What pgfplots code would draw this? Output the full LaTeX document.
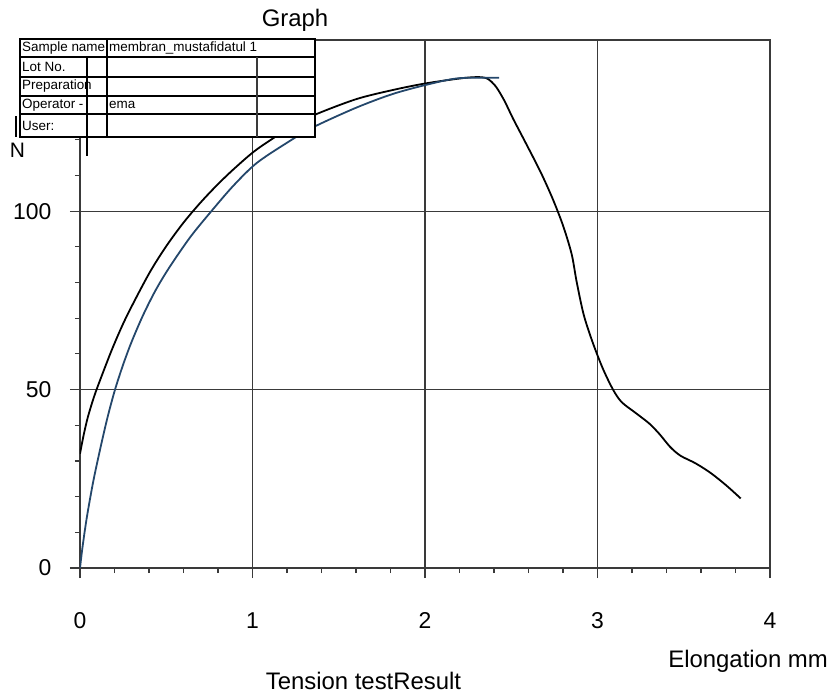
\documentclass[border=0pt]{standalone}
\usepackage{fontspec}
\setmainfont{Liberation Sans}
\usepackage{pgfplots}
\pgfplotsset{compat=1.18}
\definecolor{bluecurve}{HTML}{24476B}
\definecolor{gridc}{HTML}{3A3A3A}
\begin{document}
\begin{tikzpicture}[x=1bp,y=1bp]
\begin{axis}[
  scale only axis, width=690bp, height=528bp,
  at={(0,0)}, anchor=south west,
  xmin=0, xmax=4, ymin=0, ymax=148,
  xtick={0,1,2,3,4}, ytick={0,50,100},
  minor x tick num=4,
  minor ytick={10,20,30,40,60,70,80,90,110,120,130,140},
  xtick pos=bottom, ytick pos=left,
  tick align=outside, major tick length=10bp, minor tick length=5bp,
  grid=major, grid style={gridc, line width=1.3bp},
  axis line style={gridc, line width=1.3bp},
  every tick/.style={gridc, line width=1.1bp},
  tick label style={font=\fontsize{23}{27}\selectfont},
  /pgf/number format/assume math mode=true,
  xticklabel style={yshift=-31bp},
  yticklabel style={xshift=-15bp},
]
\addplot[black, line width=1.8bp, smooth, tension=0.5] coordinates {
(0,32) (0.02,37) (0.045,42.2) (0.08,47.8) (0.116,52.6) (0.19,61.8)
(0.27,70.5) (0.4,82.5) (0.5,90.2) (0.6,96.8) (0.7,102.5) (0.8,107.6)
(0.9,112.2) (1.024,117.3) (1.2,122.9) (1.35,126.8) (1.6,131.4)
(1.815,134) (2.0,135.8) (2.2,137.2) (2.3,137.6) (2.36,137.2) (2.41,135)
(2.46,131) (2.51,126) (2.58,119.5) (2.67,111) (2.74,103.5) (2.8,96)
(2.85,88) (2.88,80) (2.92,71) (2.97,63.5) (3.03,56) (3.09,50)
(3.14,46.5) (3.22,43.5) (3.3,40.5) (3.36,37.5) (3.42,34) (3.48,31.5)
(3.57,29.3) (3.66,26.5) (3.75,23) (3.83,19.5)
};
\addplot[bluecurve, line width=1.8bp, smooth, tension=0.5] coordinates {
(0,0) (0.015,6) (0.04,14.3) (0.077,24.3) (0.12,34) (0.16,42.3)
(0.203,50) (0.25,57) (0.3,63.5) (0.367,71) (0.44,78) (0.52,84.4)
(0.64,92.8) (0.763,100.1) (0.89,107.2) (1.024,113.5) (1.2,119.2)
(1.35,123.5) (1.6,129) (1.815,132.9) (2.03,135.7) (2.2,137.3) (2.43,137.4)
};
\end{axis}
% info table
\fill[white] (-60,431) rectangle (235,529);
\draw[black, line width=1.4bp] (-60,431) rectangle (235,529);
\foreach \yy in {511,491,472,454} \draw[black, line width=1.4bp] (-60,\yy) -- (235,\yy);
\draw[black, line width=1.4bp] (27,431) -- (27,529);
\draw[black, line width=1.1bp] (7,412) -- (7,511);
\draw[gridc, line width=1.2bp] (177,431) -- (177,511);
\draw[black, line width=2bp] (-64,431) -- (-64,452);
\begin{scope}[every node/.style={anchor=west, inner sep=0pt, font=\fontsize{13.5}{15}\selectfont}]
\node at (-58,520) {Sample name};
\node at (29,520) {membran\_mustafidatul 1};
\node at (-58,501) {Lot No.};
\node at (-58,481.5) {Preparation};
\node at (-58,463) {Operator -};
\node at (29,463) {ema};
\node at (-58,442.5) {User:};
\end{scope}
\node[font=\fontsize{21}{25}\selectfont, anchor=base] at (-62.5,410) {N};
\node[font=\fontsize{24}{28}\selectfont, anchor=base] at (215,541) {Graph};
\node[font=\fontsize{24}{28}\selectfont, anchor=base east, inner sep=0pt] at (748,-100) {Elongation mm};
\node[font=\fontsize{24}{28}\selectfont, anchor=base, inner sep=0pt] at (283.5,-122) {Tension testResult};
\pgfresetboundingbox
\path[use as bounding box] (-80,-132) rectangle (753,568);
\end{tikzpicture}
\end{document}
